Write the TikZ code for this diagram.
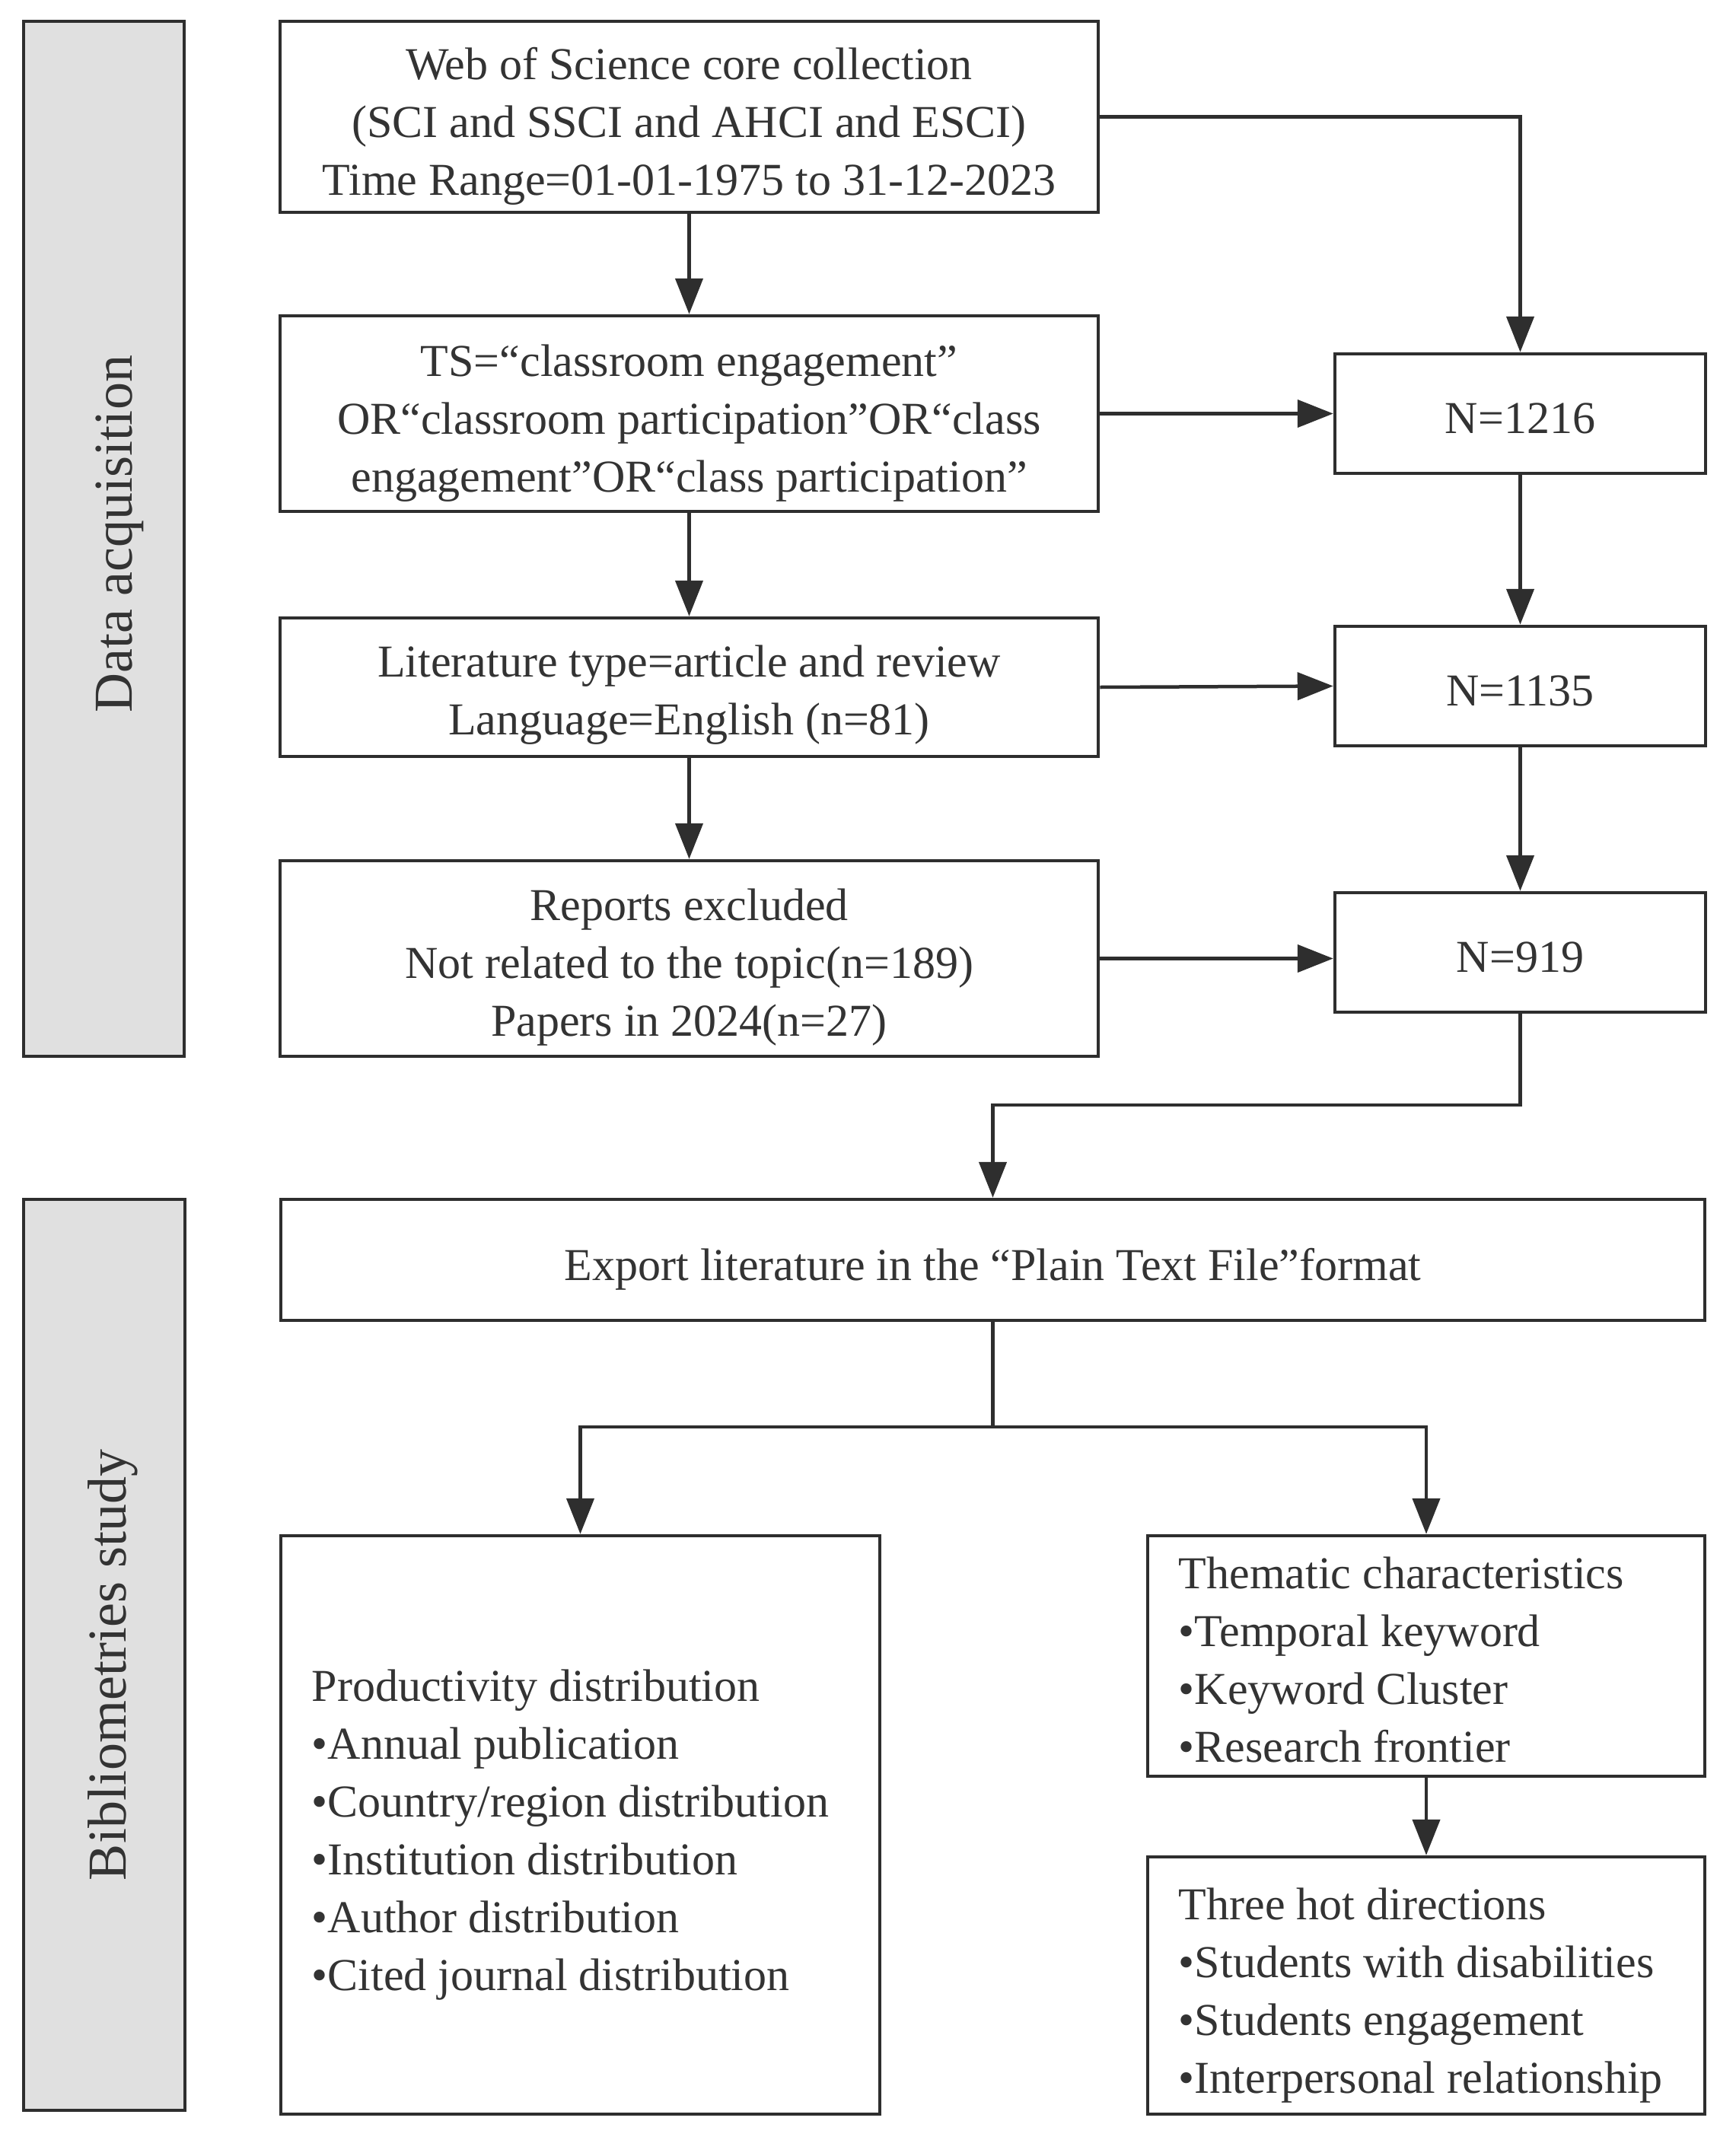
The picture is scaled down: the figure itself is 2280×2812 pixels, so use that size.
\documentclass[tikz,border=0pt]{standalone}
\usepackage{fontspec}
\setmainfont{Liberation Serif}
\usetikzlibrary{arrows.meta}
\definecolor{ink}{HTML}{2E2E2E}
\definecolor{txt}{HTML}{333333}
\definecolor{side}{HTML}{E0E0E0}
\begin{document}
\begin{tikzpicture}[x=1pt,y=-1pt,
  box/.style={draw=ink,line width=4.5pt,fill=white,inner sep=0pt},
  lbl/.style={inner sep=0pt,align=center,text=txt,font=\fontsize{60}{76}\selectfont},
  sidebox/.style={draw=ink,line width=4.5pt,fill=side,inner sep=0pt},
  sidetext/.style={rotate=90,anchor=base,inner sep=0pt,text=txt,font=\fontsize{72}{80}\selectfont},
  listtext/.style={anchor=west,inner sep=0pt,align=left,text=txt,font=\fontsize{60}{76}\selectfont},
  arr/.style={draw=ink,line width=4.5pt,-{Triangle[length=47pt,width=36pt]}},
  ln/.style={draw=ink,line width=4.5pt}]
\useasboundingbox (0,0) rectangle (2280,2812);
\fill[white] (0,0) rectangle (2280,2812);

% side panels
\node[sidebox,minimum width=211pt,minimum height=1360pt] (DA) at (136.5,708) {};
\node[sidetext] (DAt) at (173,702) {Data acquisition};
\node[sidebox,minimum width=212pt,minimum height=1197pt] (BS) at (137,2174.5) {};
\node[sidetext] (BSt) at (165,2188) {Bibliometries study};

% left column
\node[box,minimum width=1075pt,minimum height=251pt] (B1) at (905.5,153.5) {};
\node[lbl] (B1t) at ([yshift=-12pt]B1.center)
  {Web of Science core collection\\(SCI and SSCI and AHCI and ESCI)\\Time Range=01-01-1975 to 31-12-2023};
\node[box,minimum width=1075pt,minimum height=257pt] (B2) at (905.5,543.5) {};
\node[lbl] (B2t) at ([yshift=-13pt]B2.center)
  {TS=“classroom engagement”\\OR“classroom participation”OR“class\\engagement”OR“class participation”};
\node[box,minimum width=1075pt,minimum height=182pt] (B3) at (905.5,903) {};
\node[lbl] (B3t) at ([yshift=-10pt]B3.center)
  {Literature type=article and review\\Language=English (n=81)};
\node[box,minimum width=1075pt,minimum height=257pt] (B4) at (905.5,1259.5) {};
\node[lbl] (B4t) at ([yshift=-12pt]B4.center)
  {Reports excluded\\Not related to the topic(n=189)\\Papers in 2024(n=27)};

% right column
\node[box,minimum width=487pt,minimum height=157pt] (N1) at (1997.5,543.5) {};
\node[lbl] (N1t) at ([yshift=-6pt]N1.center) {N=1216};
\node[box,minimum width=487pt,minimum height=157pt] (N2) at (1997.5,901.5) {};
\node[lbl] (N2t) at ([yshift=-6pt]N2.center) {N=1135};
\node[box,minimum width=487pt,minimum height=157pt] (N3) at (1997.5,1251.5) {};
\node[lbl] (N3t) at ([yshift=-6pt]N3.center) {N=919};

% lower part
\node[box,minimum width=1871pt,minimum height=159pt] (EX) at (1304.5,1655.5) {};
\node[lbl] (EXt) at ([yshift=-12pt]EX.center) {Export literature in the “Plain Text File”format};
\node[box,minimum width=787pt,minimum height=760pt] (PR) at (762.5,2398) {};
\node[listtext] (PRt) at ([xshift=43pt,yshift=-13pt]PR.west)
  {Productivity distribution\\•Annual publication\\•Country/region distribution\\•Institution distribution\\•Author distribution\\•Cited journal distribution};
\node[box,minimum width=732pt,minimum height=316pt] (TH) at (1874,2176) {};
\node[listtext] (THt) at ([xshift=43pt,yshift=-5pt]TH.west)
  {Thematic characteristics\\•Temporal keyword\\•Keyword Cluster\\•Research frontier};
\node[box,minimum width=732pt,minimum height=338pt] (HT) at (1874,2609) {};
\node[listtext] (HTt) at ([xshift=43pt,yshift=-13pt]HT.west)
  {Three hot directions\\•Students with disabilities\\•Students engagement\\•Interpersonal relationship};

% connectors
\draw[arr] (B1) -- (B2);
\draw[arr] (B2) -- (B3);
\draw[arr] (B3) -- (B4);
\draw[arr] (B1.east) -| (N1.north);
\draw[arr] (B2.east) -- (N1.west);
\draw[arr] (B3.east) -- (N2.west);
\draw[arr] (B4.east) -- (B4.east -| N3.west);
\draw[arr] (N1) -- (N2);
\draw[arr] (N2) -- (N3);
\coordinate (j1) at (1997.5,1452);
\draw[arr] (N3.south) -- (j1) -| (EX.north);
\coordinate (j2) at (1304.5,1875);
\draw[ln] (EX.south) -- (j2);
\draw[arr] (j2) -| (PR.north);
\draw[arr] (j2) -| (TH.north);
\draw[arr] (TH) -- (HT);
\end{tikzpicture}
\end{document}
